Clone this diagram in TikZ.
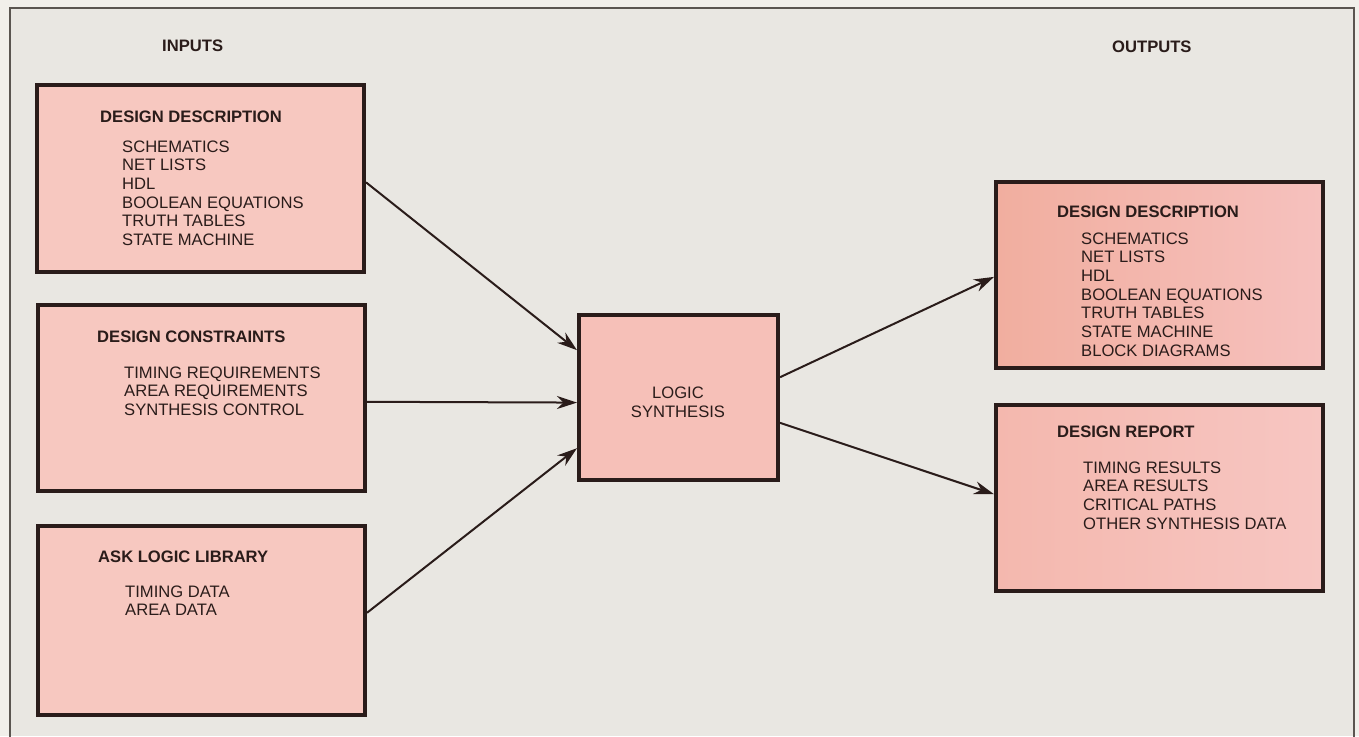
\documentclass[tikz,border=0pt]{standalone}
\usepackage{fontspec}
\setmainfont{Liberation Sans}
\usetikzlibrary{arrows.meta,calc}
\definecolor{bgout}{HTML}{F1EFEA}
\definecolor{bgin}{HTML}{E9E7E2}
\definecolor{frm}{HTML}{5A5550}
\definecolor{ink}{HTML}{2A1C1A}
\definecolor{pinkA}{HTML}{F7C8C0}
\definecolor{pinkL}{HTML}{F6C0B8}
\definecolor{salL}{HTML}{F1AE9F}
\definecolor{salR}{HTML}{F6C1BE}
\definecolor{sal2L}{HTML}{F4B8AE}
\definecolor{sal2R}{HTML}{F7C6C2}
\tikzset{
  x=1pt, y=-1pt,
  box/.style={draw=ink, line width=4pt, anchor=north west, inner sep=0pt, outer sep=2pt},
  head/.style={anchor=base west, inner sep=0pt, text=ink, font=\fontsize{16.6}{18.7}\selectfont\bfseries},
  item/.style={anchor=base west, inner sep=0pt, text=ink, font=\fontsize{16.6}{18.7}\selectfont},
  ctext/.style={anchor=base, inner sep=0pt, text=ink, font=\fontsize{16.6}{18.7}\selectfont},
  conn/.style={draw=ink, line width=2pt, -{Stealth[length=20pt,width=13pt]}}
}
\begin{document}
\begin{tikzpicture}
\useasboundingbox (0,0) rectangle (1359,736);
\fill[bgout] (0,0) rectangle (1359,736);
\fill[bgin] (10,8) rectangle (1354,736);
\draw[frm, line width=1.6pt] (10,740) -- (10,8) -- (1354,8) -- (1354,740);

% titles
\node[head] (tin) at (162,51) {INPUTS};
\node[head] (tout) at (1112,52) {OUTPUTS};

% input boxes
\node[box, fill=pinkA, minimum width=327pt, minimum height=187pt] (b1) at (35,83) {};
\node[box, fill=pinkA, minimum width=327pt, minimum height=186pt] (b2) at (36,303) {};
\node[box, fill=pinkA, minimum width=327pt, minimum height=189pt] (b3) at (36,524) {};
% logic box
\node[box, fill=pinkL, minimum width=199pt, minimum height=165pt] (ls) at (577,313) {};
% output boxes
\node[box, left color=salL, right color=salR, minimum width=327pt, minimum height=186pt] (o1) at (994,180) {};
\node[box, left color=sal2L, right color=sal2R, minimum width=327pt, minimum height=186pt] (o2) at (994,403) {};

% box 1 text
\node[head] (h1) at (100,122) {DESIGN DESCRIPTION};
\foreach \t [count=\i] in {SCHEMATICS, NET LISTS, HDL, BOOLEAN EQUATIONS, TRUTH TABLES, STATE MACHINE}
  \node[item] (b1-\i) at (122,{152+18.7*(\i-1)}) {\t};
% box 2 text
\node[head] (h2) at (97,342) {DESIGN CONSTRAINTS};
\foreach \t [count=\i] in {TIMING REQUIREMENTS, AREA REQUIREMENTS, SYNTHESIS CONTROL}
  \node[item] (b2-\i) at (124,{378+18.7*(\i-1)}) {\t};
% box 3 text
\node[head] (h3) at (98,562) {ASK LOGIC LIBRARY};
\foreach \t [count=\i] in {TIMING DATA, AREA DATA}
  \node[item] (b3-\i) at (125,{597+18.7*(\i-1)}) {\t};
% logic text
\node[ctext] (ls1) at (678,398) {LOGIC};
\node[ctext] (ls2) at (678,417) {SYNTHESIS};
% output 1 text
\node[head] (h4) at (1057,217) {DESIGN DESCRIPTION};
\foreach \t [count=\i] in {SCHEMATICS, NET LISTS, HDL, BOOLEAN EQUATIONS, TRUTH TABLES, STATE MACHINE, BLOCK DIAGRAMS}
  \node[item] (o1-\i) at (1081,{244+18.7*(\i-1)}) {\t};
% output 2 text
\node[head] (h5) at (1057,437) {DESIGN REPORT};
\foreach \t [count=\i] in {TIMING RESULTS, AREA RESULTS, CRITICAL PATHS, OTHER SYNTHESIS DATA}
  \node[item] (o2-\i) at (1083,{473+18.7*(\i-1)}) {\t};

% connectors
\draw[conn] ($(b1.north east)!0.52!(b1.south east)$) -- ($(ls.north west)!0.22!(ls.south west)$);
\draw[conn] ($(b2.north east)!0.52!(b2.south east)$) -- ($(ls.north west)!0.53!(ls.south west)$);
\draw[conn] ($(b3.north east)!0.46!(b3.south east)$) -- ($(ls.north west)!0.8!(ls.south west)$);
\draw[conn] ($(ls.north east)!0.38!(ls.south east)$) -- ($(o1.north west)!0.51!(o1.south west)$);
\draw[conn] ($(ls.north east)!0.65!(ls.south east)$) -- ($(o2.north west)!0.48!(o2.south west)$);
\end{tikzpicture}
\end{document}
